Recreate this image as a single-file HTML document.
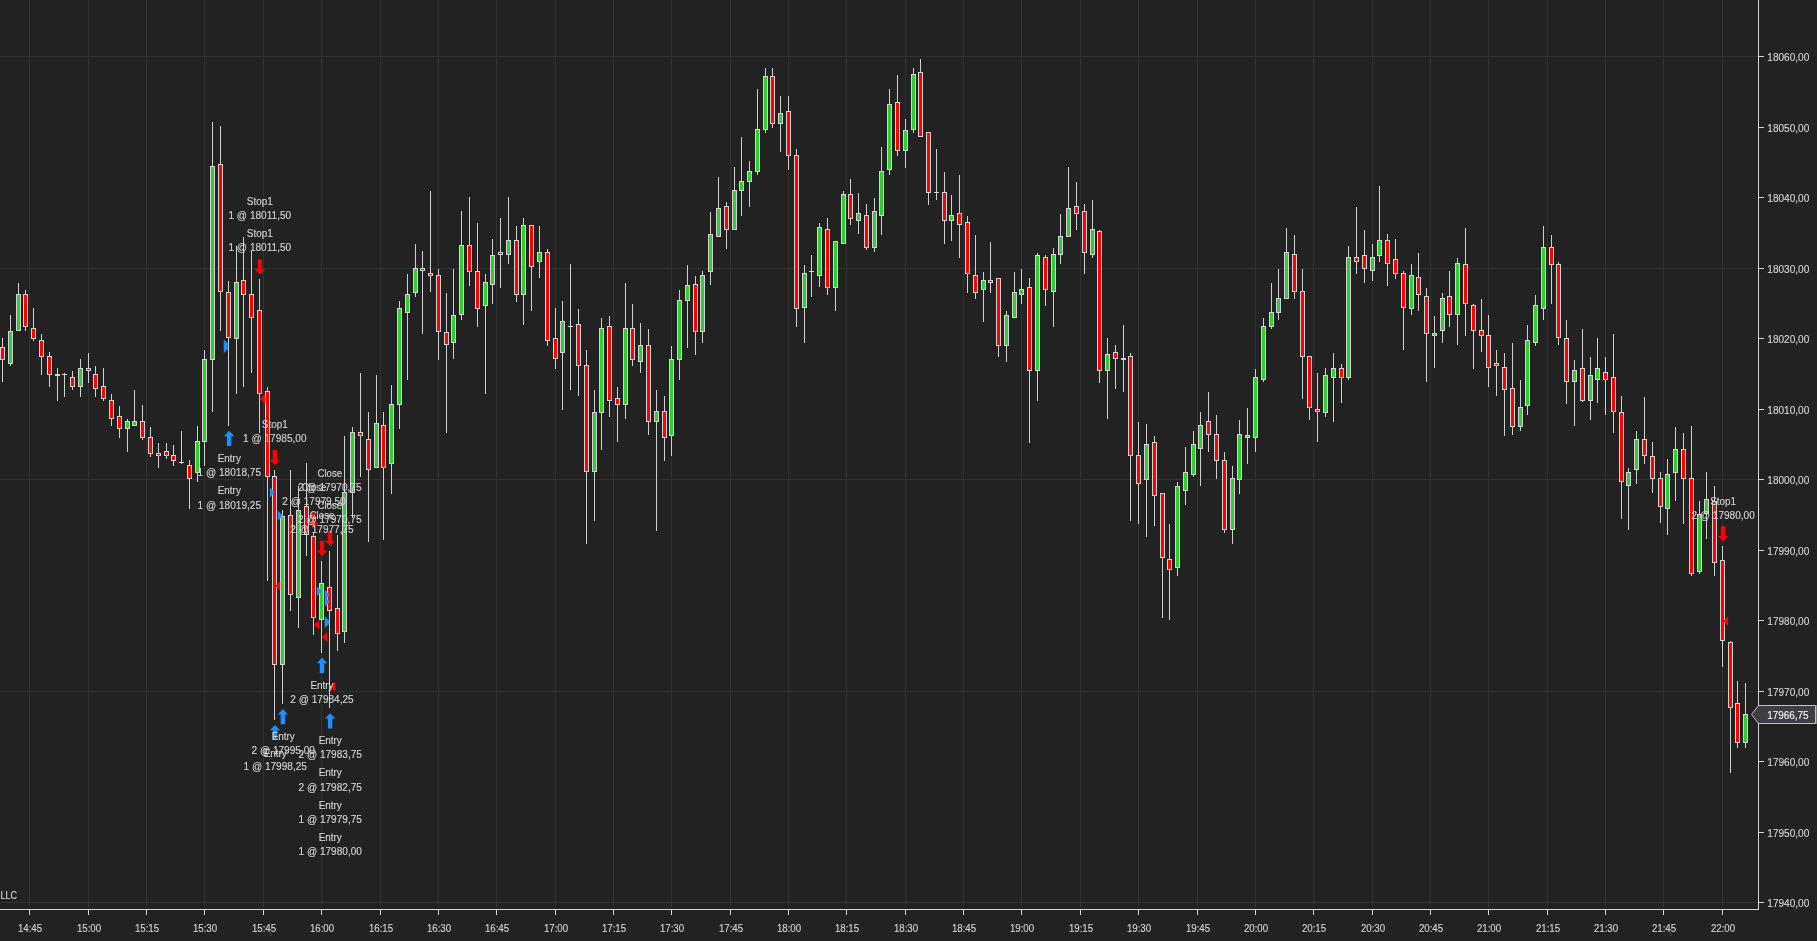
<!DOCTYPE html>
<html><head><meta charset="utf-8"><title>Chart</title>
<style>
html,body{margin:0;padding:0;background:#222222;width:1817px;height:941px;overflow:hidden;font-family:"Liberation Sans",sans-serif;}
</style></head><body>
<svg width="1817" height="941" viewBox="0 0 1817 941" style="display:block;position:absolute;left:0;top:0">
<rect width="1817" height="941" fill="#222222"/>
<g fill="#313133" shape-rendering="crispEdges">
<rect x="29" y="0" width="1" height="907"/>
<rect x="88" y="0" width="1" height="907"/>
<rect x="146" y="0" width="1" height="907"/>
<rect x="204" y="0" width="1" height="907"/>
<rect x="263" y="0" width="1" height="907"/>
<rect x="321" y="0" width="1" height="907"/>
<rect x="380" y="0" width="1" height="907"/>
<rect x="438" y="0" width="1" height="907"/>
<rect x="496" y="0" width="1" height="907"/>
<rect x="555" y="0" width="1" height="907"/>
<rect x="613" y="0" width="1" height="907"/>
<rect x="671" y="0" width="1" height="907"/>
<rect x="730" y="0" width="1" height="907"/>
<rect x="788" y="0" width="1" height="907"/>
<rect x="846" y="0" width="1" height="907"/>
<rect x="905" y="0" width="1" height="907"/>
<rect x="963" y="0" width="1" height="907"/>
<rect x="1021" y="0" width="1" height="907"/>
<rect x="1080" y="0" width="1" height="907"/>
<rect x="1138" y="0" width="1" height="907"/>
<rect x="1197" y="0" width="1" height="907"/>
<rect x="1255" y="0" width="1" height="907"/>
<rect x="1313" y="0" width="1" height="907"/>
<rect x="1372" y="0" width="1" height="907"/>
<rect x="1430" y="0" width="1" height="907"/>
<rect x="1488" y="0" width="1" height="907"/>
<rect x="1547" y="0" width="1" height="907"/>
<rect x="1605" y="0" width="1" height="907"/>
<rect x="1663" y="0" width="1" height="907"/>
<rect x="1722" y="0" width="1" height="907"/>
<rect x="0" y="56" width="1758" height="1"/>
<rect x="0" y="268" width="1758" height="1"/>
<rect x="0" y="479" width="1758" height="1"/>
<rect x="0" y="691" width="1758" height="1"/>
<rect x="0" y="902" width="1758" height="1"/>
</g>
<g shape-rendering="crispEdges">
<rect x="2" y="338" width="1" height="44" fill="#d0d0d0"/>
<rect x="0" y="347" width="5" height="13" fill="#d3d3d3"/>
<rect x="1" y="348" width="3" height="11" fill="#ff0000"/>
<rect x="10" y="315" width="1" height="51" fill="#d0d0d0"/>
<rect x="8" y="331" width="5" height="33" fill="#d3d3d3"/>
<rect x="9" y="332" width="3" height="31" fill="#32cd32"/>
<rect x="18" y="283" width="1" height="48" fill="#d0d0d0"/>
<rect x="16" y="294" width="5" height="37" fill="#d3d3d3"/>
<rect x="17" y="295" width="3" height="35" fill="#32cd32"/>
<rect x="25" y="290" width="1" height="41" fill="#d0d0d0"/>
<rect x="23" y="294" width="5" height="33" fill="#d3d3d3"/>
<rect x="24" y="295" width="3" height="31" fill="#ff0000"/>
<rect x="33" y="308" width="1" height="33" fill="#d0d0d0"/>
<rect x="31" y="328" width="5" height="11" fill="#d3d3d3"/>
<rect x="32" y="329" width="3" height="9" fill="#ff0000"/>
<rect x="41" y="334" width="1" height="41" fill="#d0d0d0"/>
<rect x="39" y="340" width="5" height="17" fill="#d3d3d3"/>
<rect x="40" y="341" width="3" height="15" fill="#ff0000"/>
<rect x="49" y="352" width="1" height="35" fill="#d0d0d0"/>
<rect x="47" y="356" width="5" height="19" fill="#d3d3d3"/>
<rect x="48" y="357" width="3" height="17" fill="#ff0000"/>
<rect x="57" y="368" width="1" height="33" fill="#d0d0d0"/>
<rect x="55" y="374" width="5" height="2" fill="#d3d3d3"/>
<rect x="64" y="373" width="1" height="24" fill="#d0d0d0"/>
<rect x="62" y="374" width="5" height="1" fill="#d3d3d3"/>
<rect x="72" y="371" width="1" height="19" fill="#d0d0d0"/>
<rect x="70" y="377" width="5" height="10" fill="#d3d3d3"/>
<rect x="71" y="378" width="3" height="8" fill="#ff0000"/>
<rect x="80" y="359" width="1" height="38" fill="#d0d0d0"/>
<rect x="78" y="368" width="5" height="19" fill="#d3d3d3"/>
<rect x="79" y="369" width="3" height="17" fill="#32cd32"/>
<rect x="88" y="353" width="1" height="30" fill="#d0d0d0"/>
<rect x="86" y="368" width="5" height="3" fill="#d3d3d3"/>
<rect x="87" y="369" width="3" height="1" fill="#ff0000"/>
<rect x="95" y="366" width="1" height="31" fill="#d0d0d0"/>
<rect x="93" y="374" width="5" height="15" fill="#d3d3d3"/>
<rect x="94" y="375" width="3" height="13" fill="#ff0000"/>
<rect x="103" y="368" width="1" height="33" fill="#d0d0d0"/>
<rect x="101" y="386" width="5" height="13" fill="#d3d3d3"/>
<rect x="102" y="387" width="3" height="11" fill="#ff0000"/>
<rect x="111" y="394" width="1" height="32" fill="#d0d0d0"/>
<rect x="109" y="400" width="5" height="19" fill="#d3d3d3"/>
<rect x="110" y="401" width="3" height="17" fill="#ff0000"/>
<rect x="119" y="406" width="1" height="32" fill="#d0d0d0"/>
<rect x="117" y="416" width="5" height="13" fill="#d3d3d3"/>
<rect x="118" y="417" width="3" height="11" fill="#ff0000"/>
<rect x="127" y="419" width="1" height="33" fill="#d0d0d0"/>
<rect x="125" y="421" width="5" height="8" fill="#d3d3d3"/>
<rect x="126" y="422" width="3" height="6" fill="#32cd32"/>
<rect x="134" y="390" width="1" height="36" fill="#d0d0d0"/>
<rect x="132" y="421" width="5" height="5" fill="#d3d3d3"/>
<rect x="133" y="422" width="3" height="3" fill="#32cd32"/>
<rect x="142" y="405" width="1" height="35" fill="#d0d0d0"/>
<rect x="140" y="421" width="5" height="17" fill="#d3d3d3"/>
<rect x="141" y="422" width="3" height="15" fill="#ff0000"/>
<rect x="150" y="427" width="1" height="30" fill="#d0d0d0"/>
<rect x="148" y="437" width="5" height="17" fill="#d3d3d3"/>
<rect x="149" y="438" width="3" height="15" fill="#ff0000"/>
<rect x="158" y="443" width="1" height="25" fill="#d0d0d0"/>
<rect x="156" y="453" width="5" height="3" fill="#d3d3d3"/>
<rect x="157" y="454" width="3" height="1" fill="#ff0000"/>
<rect x="166" y="443" width="1" height="16" fill="#d0d0d0"/>
<rect x="164" y="451" width="5" height="5" fill="#d3d3d3"/>
<rect x="165" y="452" width="3" height="3" fill="#ff0000"/>
<rect x="173" y="445" width="1" height="21" fill="#d0d0d0"/>
<rect x="171" y="455" width="5" height="6" fill="#d3d3d3"/>
<rect x="172" y="456" width="3" height="4" fill="#ff0000"/>
<rect x="181" y="431" width="1" height="33" fill="#d0d0d0"/>
<rect x="179" y="462" width="5" height="1" fill="#d3d3d3"/>
<rect x="189" y="460" width="1" height="49" fill="#d0d0d0"/>
<rect x="187" y="465" width="5" height="14" fill="#d3d3d3"/>
<rect x="188" y="466" width="3" height="12" fill="#ff0000"/>
<rect x="197" y="426" width="1" height="56" fill="#d0d0d0"/>
<rect x="195" y="441" width="5" height="32" fill="#d3d3d3"/>
<rect x="196" y="442" width="3" height="30" fill="#32cd32"/>
<rect x="204" y="350" width="1" height="116" fill="#d0d0d0"/>
<rect x="202" y="359" width="5" height="83" fill="#d3d3d3"/>
<rect x="203" y="360" width="3" height="81" fill="#32cd32"/>
<rect x="212" y="122" width="1" height="290" fill="#d0d0d0"/>
<rect x="210" y="166" width="5" height="194" fill="#d3d3d3"/>
<rect x="211" y="167" width="3" height="192" fill="#32cd32"/>
<rect x="220" y="126" width="1" height="205" fill="#d0d0d0"/>
<rect x="218" y="164" width="5" height="128" fill="#d3d3d3"/>
<rect x="219" y="165" width="3" height="126" fill="#ff0000"/>
<rect x="228" y="281" width="1" height="145" fill="#d0d0d0"/>
<rect x="226" y="292" width="5" height="46" fill="#d3d3d3"/>
<rect x="227" y="293" width="3" height="44" fill="#ff0000"/>
<rect x="236" y="246" width="1" height="148" fill="#d0d0d0"/>
<rect x="234" y="282" width="5" height="57" fill="#d3d3d3"/>
<rect x="235" y="283" width="3" height="55" fill="#32cd32"/>
<rect x="243" y="237" width="1" height="150" fill="#d0d0d0"/>
<rect x="241" y="280" width="5" height="15" fill="#d3d3d3"/>
<rect x="242" y="281" width="3" height="13" fill="#ff0000"/>
<rect x="251" y="251" width="1" height="122" fill="#d0d0d0"/>
<rect x="249" y="294" width="5" height="24" fill="#d3d3d3"/>
<rect x="250" y="295" width="3" height="22" fill="#ff0000"/>
<rect x="259" y="279" width="1" height="154" fill="#d0d0d0"/>
<rect x="257" y="310" width="5" height="84" fill="#d3d3d3"/>
<rect x="258" y="311" width="3" height="82" fill="#ff0000"/>
<rect x="267" y="387" width="1" height="194" fill="#d0d0d0"/>
<rect x="265" y="391" width="5" height="86" fill="#d3d3d3"/>
<rect x="266" y="392" width="3" height="84" fill="#ff0000"/>
<rect x="274" y="470" width="1" height="250" fill="#d0d0d0"/>
<rect x="272" y="476" width="5" height="189" fill="#d3d3d3"/>
<rect x="273" y="477" width="3" height="187" fill="#ff0000"/>
<rect x="282" y="510" width="1" height="194" fill="#d0d0d0"/>
<rect x="280" y="516" width="5" height="149" fill="#d3d3d3"/>
<rect x="281" y="517" width="3" height="147" fill="#32cd32"/>
<rect x="290" y="470" width="1" height="141" fill="#d0d0d0"/>
<rect x="288" y="515" width="5" height="80" fill="#d3d3d3"/>
<rect x="289" y="516" width="3" height="78" fill="#ff0000"/>
<rect x="298" y="486" width="1" height="142" fill="#d0d0d0"/>
<rect x="296" y="510" width="5" height="88" fill="#d3d3d3"/>
<rect x="297" y="511" width="3" height="86" fill="#32cd32"/>
<rect x="306" y="463" width="1" height="93" fill="#d0d0d0"/>
<rect x="304" y="506" width="5" height="29" fill="#d3d3d3"/>
<rect x="305" y="507" width="3" height="27" fill="#ff0000"/>
<rect x="313" y="533" width="1" height="102" fill="#d0d0d0"/>
<rect x="311" y="536" width="5" height="82" fill="#d3d3d3"/>
<rect x="312" y="537" width="3" height="80" fill="#ff0000"/>
<rect x="321" y="561" width="1" height="92" fill="#d0d0d0"/>
<rect x="319" y="583" width="5" height="37" fill="#d3d3d3"/>
<rect x="320" y="584" width="3" height="35" fill="#32cd32"/>
<rect x="329" y="551" width="1" height="157" fill="#d0d0d0"/>
<rect x="327" y="587" width="5" height="24" fill="#d3d3d3"/>
<rect x="328" y="588" width="3" height="22" fill="#ff0000"/>
<rect x="337" y="535" width="1" height="116" fill="#d0d0d0"/>
<rect x="335" y="608" width="5" height="26" fill="#d3d3d3"/>
<rect x="336" y="609" width="3" height="24" fill="#ff0000"/>
<rect x="344" y="436" width="1" height="207" fill="#d0d0d0"/>
<rect x="342" y="492" width="5" height="140" fill="#d3d3d3"/>
<rect x="343" y="493" width="3" height="138" fill="#32cd32"/>
<rect x="352" y="427" width="1" height="91" fill="#d0d0d0"/>
<rect x="350" y="432" width="5" height="61" fill="#d3d3d3"/>
<rect x="351" y="433" width="3" height="59" fill="#32cd32"/>
<rect x="360" y="373" width="1" height="104" fill="#d0d0d0"/>
<rect x="358" y="432" width="5" height="4" fill="#d3d3d3"/>
<rect x="359" y="433" width="3" height="2" fill="#ff0000"/>
<rect x="368" y="412" width="1" height="130" fill="#d0d0d0"/>
<rect x="366" y="439" width="5" height="31" fill="#d3d3d3"/>
<rect x="367" y="440" width="3" height="29" fill="#ff0000"/>
<rect x="376" y="375" width="1" height="93" fill="#d0d0d0"/>
<rect x="374" y="423" width="5" height="45" fill="#d3d3d3"/>
<rect x="375" y="424" width="3" height="43" fill="#32cd32"/>
<rect x="383" y="412" width="1" height="128" fill="#d0d0d0"/>
<rect x="381" y="425" width="5" height="43" fill="#d3d3d3"/>
<rect x="382" y="426" width="3" height="41" fill="#ff0000"/>
<rect x="391" y="385" width="1" height="109" fill="#d0d0d0"/>
<rect x="389" y="404" width="5" height="60" fill="#d3d3d3"/>
<rect x="390" y="405" width="3" height="58" fill="#32cd32"/>
<rect x="399" y="301" width="1" height="128" fill="#d0d0d0"/>
<rect x="397" y="308" width="5" height="97" fill="#d3d3d3"/>
<rect x="398" y="309" width="3" height="95" fill="#32cd32"/>
<rect x="407" y="274" width="1" height="106" fill="#d0d0d0"/>
<rect x="405" y="294" width="5" height="19" fill="#d3d3d3"/>
<rect x="406" y="295" width="3" height="17" fill="#32cd32"/>
<rect x="415" y="244" width="1" height="53" fill="#d0d0d0"/>
<rect x="413" y="268" width="5" height="25" fill="#d3d3d3"/>
<rect x="414" y="269" width="3" height="23" fill="#32cd32"/>
<rect x="422" y="251" width="1" height="83" fill="#d0d0d0"/>
<rect x="420" y="268" width="5" height="3" fill="#d3d3d3"/>
<rect x="421" y="269" width="3" height="1" fill="#ff0000"/>
<rect x="430" y="191" width="1" height="101" fill="#d0d0d0"/>
<rect x="428" y="273" width="5" height="3" fill="#d3d3d3"/>
<rect x="429" y="274" width="3" height="1" fill="#ff0000"/>
<rect x="438" y="269" width="1" height="91" fill="#d0d0d0"/>
<rect x="436" y="275" width="5" height="57" fill="#d3d3d3"/>
<rect x="437" y="276" width="3" height="55" fill="#ff0000"/>
<rect x="446" y="293" width="1" height="140" fill="#d0d0d0"/>
<rect x="444" y="332" width="5" height="13" fill="#d3d3d3"/>
<rect x="445" y="333" width="3" height="11" fill="#ff0000"/>
<rect x="453" y="269" width="1" height="90" fill="#d0d0d0"/>
<rect x="451" y="315" width="5" height="28" fill="#d3d3d3"/>
<rect x="452" y="316" width="3" height="26" fill="#32cd32"/>
<rect x="461" y="211" width="1" height="109" fill="#d0d0d0"/>
<rect x="459" y="245" width="5" height="70" fill="#d3d3d3"/>
<rect x="460" y="246" width="3" height="68" fill="#32cd32"/>
<rect x="469" y="197" width="1" height="89" fill="#d0d0d0"/>
<rect x="467" y="245" width="5" height="27" fill="#d3d3d3"/>
<rect x="468" y="246" width="3" height="25" fill="#ff0000"/>
<rect x="477" y="223" width="1" height="104" fill="#d0d0d0"/>
<rect x="475" y="271" width="5" height="38" fill="#d3d3d3"/>
<rect x="476" y="272" width="3" height="36" fill="#ff0000"/>
<rect x="485" y="274" width="1" height="120" fill="#d0d0d0"/>
<rect x="483" y="282" width="5" height="24" fill="#d3d3d3"/>
<rect x="484" y="283" width="3" height="22" fill="#32cd32"/>
<rect x="492" y="239" width="1" height="65" fill="#d0d0d0"/>
<rect x="490" y="255" width="5" height="30" fill="#d3d3d3"/>
<rect x="491" y="256" width="3" height="28" fill="#32cd32"/>
<rect x="500" y="218" width="1" height="70" fill="#d0d0d0"/>
<rect x="498" y="252" width="5" height="3" fill="#d3d3d3"/>
<rect x="499" y="253" width="3" height="1" fill="#ff0000"/>
<rect x="508" y="197" width="1" height="67" fill="#d0d0d0"/>
<rect x="506" y="240" width="5" height="15" fill="#d3d3d3"/>
<rect x="507" y="241" width="3" height="13" fill="#32cd32"/>
<rect x="516" y="226" width="1" height="76" fill="#d0d0d0"/>
<rect x="514" y="240" width="5" height="55" fill="#d3d3d3"/>
<rect x="515" y="241" width="3" height="53" fill="#ff0000"/>
<rect x="523" y="218" width="1" height="107" fill="#d0d0d0"/>
<rect x="521" y="225" width="5" height="70" fill="#d3d3d3"/>
<rect x="522" y="226" width="3" height="68" fill="#32cd32"/>
<rect x="531" y="225" width="1" height="86" fill="#d0d0d0"/>
<rect x="529" y="225" width="5" height="42" fill="#d3d3d3"/>
<rect x="530" y="226" width="3" height="40" fill="#ff0000"/>
<rect x="539" y="226" width="1" height="52" fill="#d0d0d0"/>
<rect x="537" y="252" width="5" height="10" fill="#d3d3d3"/>
<rect x="538" y="253" width="3" height="8" fill="#32cd32"/>
<rect x="547" y="249" width="1" height="97" fill="#d0d0d0"/>
<rect x="545" y="252" width="5" height="89" fill="#d3d3d3"/>
<rect x="546" y="253" width="3" height="87" fill="#ff0000"/>
<rect x="555" y="308" width="1" height="61" fill="#d0d0d0"/>
<rect x="553" y="338" width="5" height="21" fill="#d3d3d3"/>
<rect x="554" y="339" width="3" height="19" fill="#ff0000"/>
<rect x="562" y="301" width="1" height="109" fill="#d0d0d0"/>
<rect x="560" y="321" width="5" height="32" fill="#d3d3d3"/>
<rect x="561" y="322" width="3" height="30" fill="#32cd32"/>
<rect x="570" y="264" width="1" height="126" fill="#d0d0d0"/>
<rect x="568" y="326" width="5" height="1" fill="#d3d3d3"/>
<rect x="578" y="309" width="1" height="87" fill="#d0d0d0"/>
<rect x="576" y="324" width="5" height="42" fill="#d3d3d3"/>
<rect x="577" y="325" width="3" height="40" fill="#ff0000"/>
<rect x="586" y="350" width="1" height="194" fill="#d0d0d0"/>
<rect x="584" y="365" width="5" height="107" fill="#d3d3d3"/>
<rect x="585" y="366" width="3" height="105" fill="#ff0000"/>
<rect x="594" y="390" width="1" height="131" fill="#d0d0d0"/>
<rect x="592" y="412" width="5" height="60" fill="#d3d3d3"/>
<rect x="593" y="413" width="3" height="58" fill="#32cd32"/>
<rect x="601" y="318" width="1" height="132" fill="#d0d0d0"/>
<rect x="599" y="328" width="5" height="85" fill="#d3d3d3"/>
<rect x="600" y="329" width="3" height="83" fill="#32cd32"/>
<rect x="609" y="316" width="1" height="101" fill="#d0d0d0"/>
<rect x="607" y="326" width="5" height="75" fill="#d3d3d3"/>
<rect x="608" y="327" width="3" height="73" fill="#ff0000"/>
<rect x="617" y="387" width="1" height="55" fill="#d0d0d0"/>
<rect x="615" y="398" width="5" height="7" fill="#d3d3d3"/>
<rect x="616" y="399" width="3" height="5" fill="#ff0000"/>
<rect x="625" y="283" width="1" height="136" fill="#d0d0d0"/>
<rect x="623" y="328" width="5" height="77" fill="#d3d3d3"/>
<rect x="624" y="329" width="3" height="75" fill="#32cd32"/>
<rect x="632" y="304" width="1" height="62" fill="#d0d0d0"/>
<rect x="630" y="328" width="5" height="32" fill="#d3d3d3"/>
<rect x="631" y="329" width="3" height="30" fill="#ff0000"/>
<rect x="640" y="323" width="1" height="50" fill="#d0d0d0"/>
<rect x="638" y="345" width="5" height="17" fill="#d3d3d3"/>
<rect x="639" y="346" width="3" height="15" fill="#32cd32"/>
<rect x="648" y="329" width="1" height="106" fill="#d0d0d0"/>
<rect x="646" y="345" width="5" height="77" fill="#d3d3d3"/>
<rect x="647" y="346" width="3" height="75" fill="#ff0000"/>
<rect x="656" y="390" width="1" height="141" fill="#d0d0d0"/>
<rect x="654" y="411" width="5" height="11" fill="#d3d3d3"/>
<rect x="655" y="412" width="3" height="9" fill="#32cd32"/>
<rect x="664" y="396" width="1" height="65" fill="#d0d0d0"/>
<rect x="662" y="411" width="5" height="27" fill="#d3d3d3"/>
<rect x="663" y="412" width="3" height="25" fill="#ff0000"/>
<rect x="671" y="346" width="1" height="110" fill="#d0d0d0"/>
<rect x="669" y="359" width="5" height="77" fill="#d3d3d3"/>
<rect x="670" y="360" width="3" height="75" fill="#32cd32"/>
<rect x="679" y="290" width="1" height="90" fill="#d0d0d0"/>
<rect x="677" y="300" width="5" height="60" fill="#d3d3d3"/>
<rect x="678" y="301" width="3" height="58" fill="#32cd32"/>
<rect x="687" y="265" width="1" height="83" fill="#d0d0d0"/>
<rect x="685" y="285" width="5" height="16" fill="#d3d3d3"/>
<rect x="686" y="286" width="3" height="14" fill="#32cd32"/>
<rect x="695" y="276" width="1" height="79" fill="#d0d0d0"/>
<rect x="693" y="284" width="5" height="48" fill="#d3d3d3"/>
<rect x="694" y="285" width="3" height="46" fill="#ff0000"/>
<rect x="702" y="271" width="1" height="72" fill="#d0d0d0"/>
<rect x="700" y="275" width="5" height="57" fill="#d3d3d3"/>
<rect x="701" y="276" width="3" height="55" fill="#32cd32"/>
<rect x="710" y="212" width="1" height="73" fill="#d0d0d0"/>
<rect x="708" y="234" width="5" height="38" fill="#d3d3d3"/>
<rect x="709" y="235" width="3" height="36" fill="#32cd32"/>
<rect x="718" y="177" width="1" height="60" fill="#d0d0d0"/>
<rect x="716" y="208" width="5" height="29" fill="#d3d3d3"/>
<rect x="717" y="209" width="3" height="27" fill="#32cd32"/>
<rect x="726" y="202" width="1" height="47" fill="#d0d0d0"/>
<rect x="724" y="206" width="5" height="24" fill="#d3d3d3"/>
<rect x="725" y="207" width="3" height="22" fill="#ff0000"/>
<rect x="734" y="167" width="1" height="63" fill="#d0d0d0"/>
<rect x="732" y="190" width="5" height="40" fill="#d3d3d3"/>
<rect x="733" y="191" width="3" height="38" fill="#32cd32"/>
<rect x="741" y="137" width="1" height="79" fill="#d0d0d0"/>
<rect x="739" y="181" width="5" height="10" fill="#d3d3d3"/>
<rect x="740" y="182" width="3" height="8" fill="#32cd32"/>
<rect x="749" y="161" width="1" height="46" fill="#d0d0d0"/>
<rect x="747" y="171" width="5" height="11" fill="#d3d3d3"/>
<rect x="748" y="172" width="3" height="9" fill="#32cd32"/>
<rect x="757" y="89" width="1" height="86" fill="#d0d0d0"/>
<rect x="755" y="129" width="5" height="43" fill="#d3d3d3"/>
<rect x="756" y="130" width="3" height="41" fill="#32cd32"/>
<rect x="765" y="68" width="1" height="65" fill="#d0d0d0"/>
<rect x="763" y="76" width="5" height="54" fill="#d3d3d3"/>
<rect x="764" y="77" width="3" height="52" fill="#32cd32"/>
<rect x="772" y="68" width="1" height="60" fill="#d0d0d0"/>
<rect x="770" y="76" width="5" height="48" fill="#d3d3d3"/>
<rect x="771" y="77" width="3" height="46" fill="#ff0000"/>
<rect x="780" y="96" width="1" height="56" fill="#d0d0d0"/>
<rect x="778" y="113" width="5" height="11" fill="#d3d3d3"/>
<rect x="779" y="114" width="3" height="9" fill="#32cd32"/>
<rect x="788" y="96" width="1" height="74" fill="#d0d0d0"/>
<rect x="786" y="111" width="5" height="45" fill="#d3d3d3"/>
<rect x="787" y="112" width="3" height="43" fill="#ff0000"/>
<rect x="796" y="149" width="1" height="178" fill="#d0d0d0"/>
<rect x="794" y="155" width="5" height="154" fill="#d3d3d3"/>
<rect x="795" y="156" width="3" height="152" fill="#ff0000"/>
<rect x="804" y="265" width="1" height="78" fill="#d0d0d0"/>
<rect x="802" y="273" width="5" height="35" fill="#d3d3d3"/>
<rect x="803" y="274" width="3" height="33" fill="#32cd32"/>
<rect x="811" y="255" width="1" height="42" fill="#d0d0d0"/>
<rect x="809" y="271" width="5" height="1" fill="#d3d3d3"/>
<rect x="819" y="223" width="1" height="64" fill="#d0d0d0"/>
<rect x="817" y="227" width="5" height="49" fill="#d3d3d3"/>
<rect x="818" y="228" width="3" height="47" fill="#32cd32"/>
<rect x="827" y="218" width="1" height="77" fill="#d0d0d0"/>
<rect x="825" y="229" width="5" height="59" fill="#d3d3d3"/>
<rect x="826" y="230" width="3" height="57" fill="#ff0000"/>
<rect x="835" y="241" width="1" height="70" fill="#d0d0d0"/>
<rect x="833" y="241" width="5" height="47" fill="#d3d3d3"/>
<rect x="834" y="242" width="3" height="45" fill="#32cd32"/>
<rect x="843" y="191" width="1" height="53" fill="#d0d0d0"/>
<rect x="841" y="194" width="5" height="50" fill="#d3d3d3"/>
<rect x="842" y="195" width="3" height="48" fill="#32cd32"/>
<rect x="850" y="179" width="1" height="46" fill="#d0d0d0"/>
<rect x="848" y="194" width="5" height="25" fill="#d3d3d3"/>
<rect x="849" y="195" width="3" height="23" fill="#ff0000"/>
<rect x="858" y="193" width="1" height="41" fill="#d0d0d0"/>
<rect x="856" y="213" width="5" height="8" fill="#d3d3d3"/>
<rect x="857" y="214" width="3" height="6" fill="#32cd32"/>
<rect x="866" y="204" width="1" height="46" fill="#d0d0d0"/>
<rect x="864" y="215" width="5" height="33" fill="#d3d3d3"/>
<rect x="865" y="216" width="3" height="31" fill="#ff0000"/>
<rect x="874" y="198" width="1" height="54" fill="#d0d0d0"/>
<rect x="872" y="211" width="5" height="37" fill="#d3d3d3"/>
<rect x="873" y="212" width="3" height="35" fill="#32cd32"/>
<rect x="881" y="147" width="1" height="88" fill="#d0d0d0"/>
<rect x="879" y="171" width="5" height="45" fill="#d3d3d3"/>
<rect x="880" y="172" width="3" height="43" fill="#32cd32"/>
<rect x="889" y="89" width="1" height="86" fill="#d0d0d0"/>
<rect x="887" y="104" width="5" height="66" fill="#d3d3d3"/>
<rect x="888" y="105" width="3" height="64" fill="#32cd32"/>
<rect x="897" y="75" width="1" height="81" fill="#d0d0d0"/>
<rect x="895" y="102" width="5" height="49" fill="#d3d3d3"/>
<rect x="896" y="103" width="3" height="47" fill="#ff0000"/>
<rect x="905" y="119" width="1" height="49" fill="#d0d0d0"/>
<rect x="903" y="130" width="5" height="21" fill="#d3d3d3"/>
<rect x="904" y="131" width="3" height="19" fill="#32cd32"/>
<rect x="913" y="68" width="1" height="65" fill="#d0d0d0"/>
<rect x="911" y="74" width="5" height="56" fill="#d3d3d3"/>
<rect x="912" y="75" width="3" height="54" fill="#32cd32"/>
<rect x="920" y="59" width="1" height="78" fill="#d0d0d0"/>
<rect x="918" y="72" width="5" height="65" fill="#d3d3d3"/>
<rect x="919" y="73" width="3" height="63" fill="#ff0000"/>
<rect x="928" y="132" width="1" height="73" fill="#d0d0d0"/>
<rect x="926" y="132" width="5" height="61" fill="#d3d3d3"/>
<rect x="927" y="133" width="3" height="59" fill="#ff0000"/>
<rect x="936" y="149" width="1" height="51" fill="#d0d0d0"/>
<rect x="934" y="192" width="5" height="1" fill="#d3d3d3"/>
<rect x="944" y="172" width="1" height="72" fill="#d0d0d0"/>
<rect x="942" y="192" width="5" height="29" fill="#d3d3d3"/>
<rect x="943" y="193" width="3" height="27" fill="#ff0000"/>
<rect x="951" y="195" width="1" height="46" fill="#d0d0d0"/>
<rect x="949" y="215" width="5" height="6" fill="#d3d3d3"/>
<rect x="950" y="216" width="3" height="4" fill="#32cd32"/>
<rect x="959" y="175" width="1" height="83" fill="#d0d0d0"/>
<rect x="957" y="213" width="5" height="12" fill="#d3d3d3"/>
<rect x="958" y="214" width="3" height="10" fill="#ff0000"/>
<rect x="967" y="216" width="1" height="77" fill="#d0d0d0"/>
<rect x="965" y="222" width="5" height="52" fill="#d3d3d3"/>
<rect x="966" y="223" width="3" height="50" fill="#ff0000"/>
<rect x="975" y="235" width="1" height="64" fill="#d0d0d0"/>
<rect x="973" y="275" width="5" height="18" fill="#d3d3d3"/>
<rect x="974" y="276" width="3" height="16" fill="#ff0000"/>
<rect x="983" y="272" width="1" height="50" fill="#d0d0d0"/>
<rect x="981" y="280" width="5" height="10" fill="#d3d3d3"/>
<rect x="982" y="281" width="3" height="8" fill="#32cd32"/>
<rect x="990" y="242" width="1" height="51" fill="#d0d0d0"/>
<rect x="988" y="280" width="5" height="3" fill="#d3d3d3"/>
<rect x="989" y="281" width="3" height="1" fill="#ff0000"/>
<rect x="998" y="278" width="1" height="79" fill="#d0d0d0"/>
<rect x="996" y="278" width="5" height="68" fill="#d3d3d3"/>
<rect x="997" y="279" width="3" height="66" fill="#ff0000"/>
<rect x="1006" y="311" width="1" height="51" fill="#d0d0d0"/>
<rect x="1004" y="315" width="5" height="31" fill="#d3d3d3"/>
<rect x="1005" y="316" width="3" height="29" fill="#32cd32"/>
<rect x="1014" y="272" width="1" height="46" fill="#d0d0d0"/>
<rect x="1012" y="292" width="5" height="26" fill="#d3d3d3"/>
<rect x="1013" y="293" width="3" height="24" fill="#32cd32"/>
<rect x="1021" y="269" width="1" height="35" fill="#d0d0d0"/>
<rect x="1019" y="289" width="5" height="6" fill="#d3d3d3"/>
<rect x="1020" y="290" width="3" height="4" fill="#32cd32"/>
<rect x="1029" y="278" width="1" height="165" fill="#d0d0d0"/>
<rect x="1027" y="287" width="5" height="84" fill="#d3d3d3"/>
<rect x="1028" y="288" width="3" height="82" fill="#ff0000"/>
<rect x="1037" y="253" width="1" height="148" fill="#d0d0d0"/>
<rect x="1035" y="255" width="5" height="116" fill="#d3d3d3"/>
<rect x="1036" y="256" width="3" height="114" fill="#32cd32"/>
<rect x="1045" y="255" width="1" height="51" fill="#d0d0d0"/>
<rect x="1043" y="257" width="5" height="33" fill="#d3d3d3"/>
<rect x="1044" y="258" width="3" height="31" fill="#ff0000"/>
<rect x="1053" y="248" width="1" height="79" fill="#d0d0d0"/>
<rect x="1051" y="254" width="5" height="38" fill="#d3d3d3"/>
<rect x="1052" y="255" width="3" height="36" fill="#32cd32"/>
<rect x="1060" y="214" width="1" height="50" fill="#d0d0d0"/>
<rect x="1058" y="236" width="5" height="19" fill="#d3d3d3"/>
<rect x="1059" y="237" width="3" height="17" fill="#32cd32"/>
<rect x="1068" y="167" width="1" height="70" fill="#d0d0d0"/>
<rect x="1066" y="208" width="5" height="29" fill="#d3d3d3"/>
<rect x="1067" y="209" width="3" height="27" fill="#32cd32"/>
<rect x="1076" y="182" width="1" height="48" fill="#d0d0d0"/>
<rect x="1074" y="206" width="5" height="8" fill="#d3d3d3"/>
<rect x="1075" y="207" width="3" height="6" fill="#ff0000"/>
<rect x="1084" y="204" width="1" height="70" fill="#d0d0d0"/>
<rect x="1082" y="211" width="5" height="42" fill="#d3d3d3"/>
<rect x="1083" y="212" width="3" height="40" fill="#ff0000"/>
<rect x="1092" y="200" width="1" height="58" fill="#d0d0d0"/>
<rect x="1090" y="229" width="5" height="26" fill="#d3d3d3"/>
<rect x="1091" y="230" width="3" height="24" fill="#32cd32"/>
<rect x="1099" y="230" width="1" height="153" fill="#d0d0d0"/>
<rect x="1097" y="231" width="5" height="140" fill="#d3d3d3"/>
<rect x="1098" y="232" width="3" height="138" fill="#ff0000"/>
<rect x="1107" y="338" width="1" height="81" fill="#d0d0d0"/>
<rect x="1105" y="354" width="5" height="17" fill="#d3d3d3"/>
<rect x="1106" y="355" width="3" height="15" fill="#32cd32"/>
<rect x="1115" y="345" width="1" height="44" fill="#d0d0d0"/>
<rect x="1113" y="352" width="5" height="7" fill="#d3d3d3"/>
<rect x="1114" y="353" width="3" height="5" fill="#ff0000"/>
<rect x="1123" y="325" width="1" height="67" fill="#d0d0d0"/>
<rect x="1121" y="358" width="5" height="2" fill="#d3d3d3"/>
<rect x="1130" y="353" width="1" height="168" fill="#d0d0d0"/>
<rect x="1128" y="356" width="5" height="100" fill="#d3d3d3"/>
<rect x="1129" y="357" width="3" height="98" fill="#ff0000"/>
<rect x="1138" y="422" width="1" height="102" fill="#d0d0d0"/>
<rect x="1136" y="455" width="5" height="29" fill="#d3d3d3"/>
<rect x="1137" y="456" width="3" height="27" fill="#ff0000"/>
<rect x="1146" y="424" width="1" height="113" fill="#d0d0d0"/>
<rect x="1144" y="444" width="5" height="36" fill="#d3d3d3"/>
<rect x="1145" y="445" width="3" height="34" fill="#32cd32"/>
<rect x="1154" y="436" width="1" height="90" fill="#d0d0d0"/>
<rect x="1152" y="442" width="5" height="54" fill="#d3d3d3"/>
<rect x="1153" y="443" width="3" height="52" fill="#ff0000"/>
<rect x="1162" y="493" width="1" height="125" fill="#d0d0d0"/>
<rect x="1160" y="493" width="5" height="65" fill="#d3d3d3"/>
<rect x="1161" y="494" width="3" height="63" fill="#ff0000"/>
<rect x="1169" y="524" width="1" height="96" fill="#d0d0d0"/>
<rect x="1167" y="559" width="5" height="11" fill="#d3d3d3"/>
<rect x="1168" y="560" width="3" height="9" fill="#ff0000"/>
<rect x="1177" y="482" width="1" height="94" fill="#d0d0d0"/>
<rect x="1175" y="486" width="5" height="82" fill="#d3d3d3"/>
<rect x="1176" y="487" width="3" height="80" fill="#32cd32"/>
<rect x="1185" y="447" width="1" height="58" fill="#d0d0d0"/>
<rect x="1183" y="472" width="5" height="19" fill="#d3d3d3"/>
<rect x="1184" y="473" width="3" height="17" fill="#32cd32"/>
<rect x="1193" y="431" width="1" height="46" fill="#d0d0d0"/>
<rect x="1191" y="444" width="5" height="31" fill="#d3d3d3"/>
<rect x="1192" y="445" width="3" height="29" fill="#32cd32"/>
<rect x="1200" y="412" width="1" height="74" fill="#d0d0d0"/>
<rect x="1198" y="425" width="5" height="24" fill="#d3d3d3"/>
<rect x="1199" y="426" width="3" height="22" fill="#32cd32"/>
<rect x="1208" y="392" width="1" height="60" fill="#d0d0d0"/>
<rect x="1206" y="421" width="5" height="14" fill="#d3d3d3"/>
<rect x="1207" y="422" width="3" height="12" fill="#ff0000"/>
<rect x="1216" y="415" width="1" height="64" fill="#d0d0d0"/>
<rect x="1214" y="434" width="5" height="27" fill="#d3d3d3"/>
<rect x="1215" y="435" width="3" height="25" fill="#ff0000"/>
<rect x="1224" y="452" width="1" height="81" fill="#d0d0d0"/>
<rect x="1222" y="460" width="5" height="70" fill="#d3d3d3"/>
<rect x="1223" y="461" width="3" height="68" fill="#ff0000"/>
<rect x="1232" y="466" width="1" height="78" fill="#d0d0d0"/>
<rect x="1230" y="478" width="5" height="52" fill="#d3d3d3"/>
<rect x="1231" y="479" width="3" height="50" fill="#32cd32"/>
<rect x="1239" y="420" width="1" height="74" fill="#d0d0d0"/>
<rect x="1237" y="434" width="5" height="46" fill="#d3d3d3"/>
<rect x="1238" y="435" width="3" height="44" fill="#32cd32"/>
<rect x="1247" y="408" width="1" height="56" fill="#d0d0d0"/>
<rect x="1245" y="435" width="5" height="3" fill="#d3d3d3"/>
<rect x="1246" y="436" width="3" height="1" fill="#32cd32"/>
<rect x="1255" y="369" width="1" height="83" fill="#d0d0d0"/>
<rect x="1253" y="377" width="5" height="61" fill="#d3d3d3"/>
<rect x="1254" y="378" width="3" height="59" fill="#32cd32"/>
<rect x="1263" y="318" width="1" height="64" fill="#d0d0d0"/>
<rect x="1261" y="326" width="5" height="54" fill="#d3d3d3"/>
<rect x="1262" y="327" width="3" height="52" fill="#32cd32"/>
<rect x="1271" y="283" width="1" height="46" fill="#d0d0d0"/>
<rect x="1269" y="312" width="5" height="15" fill="#d3d3d3"/>
<rect x="1270" y="313" width="3" height="13" fill="#32cd32"/>
<rect x="1278" y="269" width="1" height="51" fill="#d0d0d0"/>
<rect x="1276" y="298" width="5" height="15" fill="#d3d3d3"/>
<rect x="1277" y="299" width="3" height="13" fill="#32cd32"/>
<rect x="1286" y="228" width="1" height="71" fill="#d0d0d0"/>
<rect x="1284" y="252" width="5" height="47" fill="#d3d3d3"/>
<rect x="1285" y="253" width="3" height="45" fill="#32cd32"/>
<rect x="1294" y="235" width="1" height="64" fill="#d0d0d0"/>
<rect x="1292" y="254" width="5" height="38" fill="#d3d3d3"/>
<rect x="1293" y="255" width="3" height="36" fill="#ff0000"/>
<rect x="1302" y="269" width="1" height="130" fill="#d0d0d0"/>
<rect x="1300" y="291" width="5" height="66" fill="#d3d3d3"/>
<rect x="1301" y="292" width="3" height="64" fill="#ff0000"/>
<rect x="1309" y="356" width="1" height="64" fill="#d0d0d0"/>
<rect x="1307" y="356" width="5" height="52" fill="#d3d3d3"/>
<rect x="1308" y="357" width="3" height="50" fill="#ff0000"/>
<rect x="1317" y="373" width="1" height="69" fill="#d0d0d0"/>
<rect x="1315" y="409" width="5" height="3" fill="#d3d3d3"/>
<rect x="1316" y="410" width="3" height="1" fill="#ff0000"/>
<rect x="1325" y="368" width="1" height="49" fill="#d0d0d0"/>
<rect x="1323" y="375" width="5" height="38" fill="#d3d3d3"/>
<rect x="1324" y="376" width="3" height="36" fill="#32cd32"/>
<rect x="1333" y="353" width="1" height="69" fill="#d0d0d0"/>
<rect x="1331" y="368" width="5" height="10" fill="#d3d3d3"/>
<rect x="1332" y="369" width="3" height="8" fill="#32cd32"/>
<rect x="1341" y="364" width="1" height="39" fill="#d0d0d0"/>
<rect x="1339" y="368" width="5" height="10" fill="#d3d3d3"/>
<rect x="1340" y="369" width="3" height="8" fill="#ff0000"/>
<rect x="1348" y="246" width="1" height="134" fill="#d0d0d0"/>
<rect x="1346" y="257" width="5" height="121" fill="#d3d3d3"/>
<rect x="1347" y="258" width="3" height="119" fill="#32cd32"/>
<rect x="1356" y="207" width="1" height="67" fill="#d0d0d0"/>
<rect x="1354" y="257" width="5" height="5" fill="#d3d3d3"/>
<rect x="1355" y="258" width="3" height="3" fill="#ff0000"/>
<rect x="1364" y="230" width="1" height="53" fill="#d0d0d0"/>
<rect x="1362" y="255" width="5" height="14" fill="#d3d3d3"/>
<rect x="1363" y="256" width="3" height="12" fill="#ff0000"/>
<rect x="1372" y="244" width="1" height="37" fill="#d0d0d0"/>
<rect x="1370" y="257" width="5" height="14" fill="#d3d3d3"/>
<rect x="1371" y="258" width="3" height="12" fill="#32cd32"/>
<rect x="1379" y="186" width="1" height="76" fill="#d0d0d0"/>
<rect x="1377" y="240" width="5" height="16" fill="#d3d3d3"/>
<rect x="1378" y="241" width="3" height="14" fill="#32cd32"/>
<rect x="1387" y="234" width="1" height="52" fill="#d0d0d0"/>
<rect x="1385" y="240" width="5" height="24" fill="#d3d3d3"/>
<rect x="1386" y="241" width="3" height="22" fill="#ff0000"/>
<rect x="1395" y="239" width="1" height="40" fill="#d0d0d0"/>
<rect x="1393" y="259" width="5" height="15" fill="#d3d3d3"/>
<rect x="1394" y="260" width="3" height="13" fill="#ff0000"/>
<rect x="1403" y="271" width="1" height="79" fill="#d0d0d0"/>
<rect x="1401" y="273" width="5" height="35" fill="#d3d3d3"/>
<rect x="1402" y="274" width="3" height="33" fill="#ff0000"/>
<rect x="1411" y="264" width="1" height="51" fill="#d0d0d0"/>
<rect x="1409" y="275" width="5" height="34" fill="#d3d3d3"/>
<rect x="1410" y="276" width="3" height="32" fill="#32cd32"/>
<rect x="1418" y="253" width="1" height="58" fill="#d0d0d0"/>
<rect x="1416" y="277" width="5" height="18" fill="#d3d3d3"/>
<rect x="1417" y="278" width="3" height="16" fill="#ff0000"/>
<rect x="1426" y="288" width="1" height="94" fill="#d0d0d0"/>
<rect x="1424" y="296" width="5" height="38" fill="#d3d3d3"/>
<rect x="1425" y="297" width="3" height="36" fill="#ff0000"/>
<rect x="1434" y="316" width="1" height="52" fill="#d0d0d0"/>
<rect x="1432" y="333" width="5" height="3" fill="#d3d3d3"/>
<rect x="1433" y="334" width="3" height="1" fill="#32cd32"/>
<rect x="1442" y="293" width="1" height="50" fill="#d0d0d0"/>
<rect x="1440" y="298" width="5" height="33" fill="#d3d3d3"/>
<rect x="1441" y="299" width="3" height="31" fill="#32cd32"/>
<rect x="1449" y="271" width="1" height="56" fill="#d0d0d0"/>
<rect x="1447" y="296" width="5" height="19" fill="#d3d3d3"/>
<rect x="1448" y="297" width="3" height="17" fill="#ff0000"/>
<rect x="1457" y="258" width="1" height="87" fill="#d0d0d0"/>
<rect x="1455" y="263" width="5" height="52" fill="#d3d3d3"/>
<rect x="1456" y="264" width="3" height="50" fill="#32cd32"/>
<rect x="1465" y="228" width="1" height="108" fill="#d0d0d0"/>
<rect x="1463" y="264" width="5" height="40" fill="#d3d3d3"/>
<rect x="1464" y="265" width="3" height="38" fill="#ff0000"/>
<rect x="1473" y="304" width="1" height="65" fill="#d0d0d0"/>
<rect x="1471" y="305" width="5" height="26" fill="#d3d3d3"/>
<rect x="1472" y="306" width="3" height="24" fill="#ff0000"/>
<rect x="1481" y="299" width="1" height="53" fill="#d0d0d0"/>
<rect x="1479" y="330" width="5" height="6" fill="#d3d3d3"/>
<rect x="1480" y="331" width="3" height="4" fill="#ff0000"/>
<rect x="1488" y="315" width="1" height="72" fill="#d0d0d0"/>
<rect x="1486" y="335" width="5" height="33" fill="#d3d3d3"/>
<rect x="1487" y="336" width="3" height="31" fill="#ff0000"/>
<rect x="1496" y="350" width="1" height="46" fill="#d0d0d0"/>
<rect x="1494" y="363" width="5" height="3" fill="#d3d3d3"/>
<rect x="1495" y="364" width="3" height="1" fill="#ff0000"/>
<rect x="1504" y="353" width="1" height="83" fill="#d0d0d0"/>
<rect x="1502" y="367" width="5" height="23" fill="#d3d3d3"/>
<rect x="1503" y="368" width="3" height="21" fill="#ff0000"/>
<rect x="1512" y="343" width="1" height="92" fill="#d0d0d0"/>
<rect x="1510" y="388" width="5" height="39" fill="#d3d3d3"/>
<rect x="1511" y="389" width="3" height="37" fill="#ff0000"/>
<rect x="1520" y="380" width="1" height="51" fill="#d0d0d0"/>
<rect x="1518" y="407" width="5" height="20" fill="#d3d3d3"/>
<rect x="1519" y="408" width="3" height="18" fill="#32cd32"/>
<rect x="1527" y="325" width="1" height="90" fill="#d0d0d0"/>
<rect x="1525" y="340" width="5" height="66" fill="#d3d3d3"/>
<rect x="1526" y="341" width="3" height="64" fill="#32cd32"/>
<rect x="1535" y="295" width="1" height="51" fill="#d0d0d0"/>
<rect x="1533" y="305" width="5" height="38" fill="#d3d3d3"/>
<rect x="1534" y="306" width="3" height="36" fill="#32cd32"/>
<rect x="1543" y="226" width="1" height="94" fill="#d0d0d0"/>
<rect x="1541" y="247" width="5" height="62" fill="#d3d3d3"/>
<rect x="1542" y="248" width="3" height="60" fill="#32cd32"/>
<rect x="1551" y="235" width="1" height="69" fill="#d0d0d0"/>
<rect x="1549" y="247" width="5" height="18" fill="#d3d3d3"/>
<rect x="1550" y="248" width="3" height="16" fill="#ff0000"/>
<rect x="1558" y="262" width="1" height="83" fill="#d0d0d0"/>
<rect x="1556" y="264" width="5" height="74" fill="#d3d3d3"/>
<rect x="1557" y="265" width="3" height="72" fill="#ff0000"/>
<rect x="1566" y="320" width="1" height="84" fill="#d0d0d0"/>
<rect x="1564" y="338" width="5" height="44" fill="#d3d3d3"/>
<rect x="1565" y="339" width="3" height="42" fill="#ff0000"/>
<rect x="1574" y="360" width="1" height="66" fill="#d0d0d0"/>
<rect x="1572" y="370" width="5" height="12" fill="#d3d3d3"/>
<rect x="1573" y="371" width="3" height="10" fill="#32cd32"/>
<rect x="1582" y="329" width="1" height="73" fill="#d0d0d0"/>
<rect x="1580" y="368" width="5" height="33" fill="#d3d3d3"/>
<rect x="1581" y="369" width="3" height="31" fill="#ff0000"/>
<rect x="1590" y="357" width="1" height="63" fill="#d0d0d0"/>
<rect x="1588" y="375" width="5" height="26" fill="#d3d3d3"/>
<rect x="1589" y="376" width="3" height="24" fill="#32cd32"/>
<rect x="1597" y="338" width="1" height="65" fill="#d0d0d0"/>
<rect x="1595" y="368" width="5" height="12" fill="#d3d3d3"/>
<rect x="1596" y="369" width="3" height="10" fill="#32cd32"/>
<rect x="1605" y="357" width="1" height="58" fill="#d0d0d0"/>
<rect x="1603" y="372" width="5" height="8" fill="#d3d3d3"/>
<rect x="1604" y="373" width="3" height="6" fill="#ff0000"/>
<rect x="1613" y="334" width="1" height="99" fill="#d0d0d0"/>
<rect x="1611" y="377" width="5" height="35" fill="#d3d3d3"/>
<rect x="1612" y="378" width="3" height="33" fill="#ff0000"/>
<rect x="1621" y="396" width="1" height="123" fill="#d0d0d0"/>
<rect x="1619" y="412" width="5" height="70" fill="#d3d3d3"/>
<rect x="1620" y="413" width="3" height="68" fill="#ff0000"/>
<rect x="1628" y="468" width="1" height="62" fill="#d0d0d0"/>
<rect x="1626" y="472" width="5" height="14" fill="#d3d3d3"/>
<rect x="1627" y="473" width="3" height="12" fill="#32cd32"/>
<rect x="1636" y="431" width="1" height="53" fill="#d0d0d0"/>
<rect x="1634" y="439" width="5" height="31" fill="#d3d3d3"/>
<rect x="1635" y="440" width="3" height="29" fill="#32cd32"/>
<rect x="1644" y="397" width="1" height="67" fill="#d0d0d0"/>
<rect x="1642" y="439" width="5" height="17" fill="#d3d3d3"/>
<rect x="1643" y="440" width="3" height="15" fill="#ff0000"/>
<rect x="1652" y="442" width="1" height="51" fill="#d0d0d0"/>
<rect x="1650" y="456" width="5" height="23" fill="#d3d3d3"/>
<rect x="1651" y="457" width="3" height="21" fill="#ff0000"/>
<rect x="1660" y="472" width="1" height="51" fill="#d0d0d0"/>
<rect x="1658" y="478" width="5" height="29" fill="#d3d3d3"/>
<rect x="1659" y="479" width="3" height="27" fill="#ff0000"/>
<rect x="1667" y="459" width="1" height="76" fill="#d0d0d0"/>
<rect x="1665" y="474" width="5" height="35" fill="#d3d3d3"/>
<rect x="1666" y="475" width="3" height="33" fill="#32cd32"/>
<rect x="1675" y="427" width="1" height="74" fill="#d0d0d0"/>
<rect x="1673" y="449" width="5" height="24" fill="#d3d3d3"/>
<rect x="1674" y="450" width="3" height="22" fill="#32cd32"/>
<rect x="1683" y="433" width="1" height="91" fill="#d0d0d0"/>
<rect x="1681" y="449" width="5" height="30" fill="#d3d3d3"/>
<rect x="1682" y="450" width="3" height="28" fill="#ff0000"/>
<rect x="1691" y="426" width="1" height="150" fill="#d0d0d0"/>
<rect x="1689" y="478" width="5" height="96" fill="#d3d3d3"/>
<rect x="1690" y="479" width="3" height="94" fill="#ff0000"/>
<rect x="1699" y="501" width="1" height="73" fill="#d0d0d0"/>
<rect x="1697" y="514" width="5" height="58" fill="#d3d3d3"/>
<rect x="1698" y="515" width="3" height="56" fill="#32cd32"/>
<rect x="1706" y="472" width="1" height="67" fill="#d0d0d0"/>
<rect x="1704" y="499" width="5" height="15" fill="#d3d3d3"/>
<rect x="1705" y="500" width="3" height="13" fill="#32cd32"/>
<rect x="1714" y="486" width="1" height="90" fill="#d0d0d0"/>
<rect x="1712" y="501" width="5" height="62" fill="#d3d3d3"/>
<rect x="1713" y="502" width="3" height="60" fill="#ff0000"/>
<rect x="1722" y="546" width="1" height="121" fill="#d0d0d0"/>
<rect x="1720" y="560" width="5" height="81" fill="#d3d3d3"/>
<rect x="1721" y="561" width="3" height="79" fill="#ff0000"/>
<rect x="1730" y="641" width="1" height="132" fill="#d0d0d0"/>
<rect x="1728" y="642" width="5" height="66" fill="#d3d3d3"/>
<rect x="1729" y="643" width="3" height="64" fill="#ff0000"/>
<rect x="1737" y="681" width="1" height="67" fill="#d0d0d0"/>
<rect x="1735" y="703" width="5" height="40" fill="#d3d3d3"/>
<rect x="1736" y="704" width="3" height="38" fill="#ff0000"/>
<rect x="1745" y="683" width="1" height="65" fill="#d0d0d0"/>
<rect x="1743" y="714" width="5" height="29" fill="#d3d3d3"/>
<rect x="1744" y="715" width="3" height="27" fill="#32cd32"/>
</g>
<g>
<path fill="#1e90ff" d="M228.7,348.0 l-4.9,-5 v10 z"/>
<path fill="#1e90ff" d="M228.7,344.5 l-4.9,-5 v10 z"/>
<path fill="#ff0000" d="M260.2,399.1 l4.9,-5 v10 z"/>
<path fill="#ff0000" d="M260.2,399.1 l4.9,-5 v10 z"/>
<path fill="#1e90ff" d="M282.7,515.5 l-4.9,-5 v10 z"/>
<path fill="#1e90ff" d="M274.7,492.5 l-4.9,-5 v10 z"/>
<path fill="#ff0000" d="M275.2,586.0 l4.9,-5 v10 z"/>
<path fill="#ff0000" d="M314.2,624.8 l4.9,-5 v10 z"/>
<path fill="#ff0000" d="M322.2,637.1 l4.9,-5 v10 z"/>
<path fill="#ff0000" d="M330.2,686.5 l4.9,-5 v10 z"/>
<path fill="#1e90ff" d="M321.7,591.3 l-4.9,-5 v10 z"/>
<path fill="#1e90ff" d="M329.7,594.8 l-4.9,-5 v10 z"/>
<path fill="#1e90ff" d="M329.7,601.8 l-4.9,-5 v10 z"/>
<path fill="#1e90ff" d="M329.7,623.0 l-4.9,-5 v10 z"/>
<path fill="#1e90ff" d="M329.7,621.2 l-4.9,-5 v10 z"/>
<path fill="#ff0000" d="M1723.2,621.2 l4.9,-5 v10 z"/>
<path fill="#ff0000" d="M257.70,259.2 h4.4 v9.8 h3 l-5.2,5.4 l-5.2,-5.4 h3 z"/>
<path fill="#1e90ff" d="M229.10,430.8 l5.2,5.4 h-3 v9.8 h-4.4 v-9.8 h-3 z"/>
<path fill="#ff0000" d="M272.70,449.9 h4.4 v9.8 h3 l-5.2,5.4 l-5.2,-5.4 h3 z"/>
<path fill="#ff0000" d="M311.40,512.6 h4.4 v9.8 h3 l-5.2,5.4 l-5.2,-5.4 h3 z"/>
<path fill="#ff0000" d="M327.80,530.9 h4.4 v9.8 h3 l-5.2,5.4 l-5.2,-5.4 h3 z"/>
<path fill="#ff0000" d="M319.80,540.7 h4.4 v9.8 h3 l-5.2,5.4 l-5.2,-5.4 h3 z"/>
<path fill="#1e90ff" d="M322.00,657.8 l5.2,5.4 h-3 v9.8 h-4.4 v-9.8 h-3 z"/>
<path fill="#1e90ff" d="M282.90,709.0 l5.2,5.4 h-3 v9.8 h-4.4 v-9.8 h-3 z"/>
<path fill="#1e90ff" d="M275.00,724.9 l5.2,5.4 h-3 v9.8 h-4.4 v-9.8 h-3 z"/>
<path fill="#1e90ff" d="M330.10,713.2 l5.2,5.4 h-3 v9.8 h-4.4 v-9.8 h-3 z"/>
<path fill="#ff0000" d="M1720.90,526.2 h4.4 v9.8 h3 l-5.2,5.4 l-5.2,-5.4 h3 z"/>
</g>
<g font-family="'Liberation Sans', sans-serif" style="will-change:opacity;opacity:0.999">
<g transform="translate(259.8,205.0) scale(0.91,1)"><text text-anchor="middle" font-size="10.9" fill="#d4d4d4" stroke="#d4d4d4" stroke-width="0.15">Stop1</text></g>
<g transform="translate(259.8,218.9) scale(0.925,1)"><text text-anchor="middle" font-size="10.9" fill="#d4d4d4" stroke="#d4d4d4" stroke-width="0.15">1 @ 18011,50</text></g>
<g transform="translate(259.8,237.2) scale(0.91,1)"><text text-anchor="middle" font-size="10.9" fill="#d4d4d4" stroke="#d4d4d4" stroke-width="0.15">Stop1</text></g>
<g transform="translate(259.8,251.2) scale(0.925,1)"><text text-anchor="middle" font-size="10.9" fill="#d4d4d4" stroke="#d4d4d4" stroke-width="0.15">1 @ 18011,50</text></g>
<g transform="translate(229.3,462.2) scale(0.91,1)"><text text-anchor="middle" font-size="10.9" fill="#d4d4d4" stroke="#d4d4d4" stroke-width="0.15">Entry</text></g>
<g transform="translate(229.3,476.1) scale(0.925,1)"><text text-anchor="middle" font-size="10.9" fill="#d4d4d4" stroke="#d4d4d4" stroke-width="0.15">1 @ 18018,75</text></g>
<g transform="translate(229.3,494.4) scale(0.91,1)"><text text-anchor="middle" font-size="10.9" fill="#d4d4d4" stroke="#d4d4d4" stroke-width="0.15">Entry</text></g>
<g transform="translate(229.3,509.0) scale(0.925,1)"><text text-anchor="middle" font-size="10.9" fill="#d4d4d4" stroke="#d4d4d4" stroke-width="0.15">1 @ 18019,25</text></g>
<g transform="translate(274.8,428.3) scale(0.91,1)"><text text-anchor="middle" font-size="10.9" fill="#d4d4d4" stroke="#d4d4d4" stroke-width="0.15">Stop1</text></g>
<g transform="translate(274.8,442.2) scale(0.925,1)"><text text-anchor="middle" font-size="10.9" fill="#d4d4d4" stroke="#d4d4d4" stroke-width="0.15">1 @ 17985,00</text></g>
<g transform="translate(329.8,477.2) scale(0.89,1)"><text text-anchor="middle" font-size="10.9" fill="#d4d4d4" stroke="#d4d4d4" stroke-width="0.15">Close</text></g>
<g transform="translate(329.8,490.9) scale(0.925,1)"><text text-anchor="middle" font-size="10.9" fill="#d4d4d4" stroke="#d4d4d4" stroke-width="0.15">2 @ 17970,75</text></g>
<g transform="translate(314.0,490.9) scale(0.89,1)"><text text-anchor="middle" font-size="10.9" fill="#d4d4d4" stroke="#d4d4d4" stroke-width="0.15">Close</text></g>
<g transform="translate(314.0,505.1) scale(0.925,1)"><text text-anchor="middle" font-size="10.9" fill="#d4d4d4" stroke="#d4d4d4" stroke-width="0.15">2 @ 17979,50</text></g>
<g transform="translate(329.8,509.3) scale(0.89,1)"><text text-anchor="middle" font-size="10.9" fill="#d4d4d4" stroke="#d4d4d4" stroke-width="0.15">Close</text></g>
<g transform="translate(329.8,523.4) scale(0.925,1)"><text text-anchor="middle" font-size="10.9" fill="#d4d4d4" stroke="#d4d4d4" stroke-width="0.15">2 @ 17970,75</text></g>
<g transform="translate(322.0,519.0) scale(0.89,1)"><text text-anchor="middle" font-size="10.9" fill="#d4d4d4" stroke="#d4d4d4" stroke-width="0.15">Close</text></g>
<g transform="translate(322.0,533.2) scale(0.925,1)"><text text-anchor="middle" font-size="10.9" fill="#d4d4d4" stroke="#d4d4d4" stroke-width="0.15">2 @ 17977,75</text></g>
<g transform="translate(322.0,689.4) scale(0.91,1)"><text text-anchor="middle" font-size="10.9" fill="#d4d4d4" stroke="#d4d4d4" stroke-width="0.15">Entry</text></g>
<g transform="translate(322.0,703.3) scale(0.925,1)"><text text-anchor="middle" font-size="10.9" fill="#d4d4d4" stroke="#d4d4d4" stroke-width="0.15">2 @ 17984,25</text></g>
<g transform="translate(283.2,740.2) scale(0.91,1)"><text text-anchor="middle" font-size="10.9" fill="#d4d4d4" stroke="#d4d4d4" stroke-width="0.15">Entry</text></g>
<g transform="translate(283.2,754.2) scale(0.925,1)"><text text-anchor="middle" font-size="10.9" fill="#d4d4d4" stroke="#d4d4d4" stroke-width="0.15">2 @ 17995,00</text></g>
<g transform="translate(275.2,757.2) scale(0.91,1)"><text text-anchor="middle" font-size="10.9" fill="#d4d4d4" stroke="#d4d4d4" stroke-width="0.15">Entry</text></g>
<g transform="translate(275.2,770.0) scale(0.925,1)"><text text-anchor="middle" font-size="10.9" fill="#d4d4d4" stroke="#d4d4d4" stroke-width="0.15">1 @ 17998,25</text></g>
<g transform="translate(330.2,744.0) scale(0.91,1)"><text text-anchor="middle" font-size="10.9" fill="#d4d4d4" stroke="#d4d4d4" stroke-width="0.15">Entry</text></g>
<g transform="translate(330.2,758.3) scale(0.925,1)"><text text-anchor="middle" font-size="10.9" fill="#d4d4d4" stroke="#d4d4d4" stroke-width="0.15">2 @ 17983,75</text></g>
<g transform="translate(330.2,776.3) scale(0.91,1)"><text text-anchor="middle" font-size="10.9" fill="#d4d4d4" stroke="#d4d4d4" stroke-width="0.15">Entry</text></g>
<g transform="translate(330.2,790.8) scale(0.925,1)"><text text-anchor="middle" font-size="10.9" fill="#d4d4d4" stroke="#d4d4d4" stroke-width="0.15">2 @ 17982,75</text></g>
<g transform="translate(330.2,809.3) scale(0.91,1)"><text text-anchor="middle" font-size="10.9" fill="#d4d4d4" stroke="#d4d4d4" stroke-width="0.15">Entry</text></g>
<g transform="translate(330.2,823.2) scale(0.925,1)"><text text-anchor="middle" font-size="10.9" fill="#d4d4d4" stroke="#d4d4d4" stroke-width="0.15">1 @ 17979,75</text></g>
<g transform="translate(330.2,841.2) scale(0.91,1)"><text text-anchor="middle" font-size="10.9" fill="#d4d4d4" stroke="#d4d4d4" stroke-width="0.15">Entry</text></g>
<g transform="translate(330.2,855.1) scale(0.925,1)"><text text-anchor="middle" font-size="10.9" fill="#d4d4d4" stroke="#d4d4d4" stroke-width="0.15">1 @ 17980,00</text></g>
<g transform="translate(1723.1,504.5) scale(0.91,1)"><text text-anchor="middle" font-size="10.9" fill="#d4d4d4" stroke="#d4d4d4" stroke-width="0.15">Stop1</text></g>
<g transform="translate(1723.1,518.7) scale(0.925,1)"><text text-anchor="middle" font-size="10.9" fill="#d4d4d4" stroke="#d4d4d4" stroke-width="0.15">2 @ 17980,00</text></g>
</g>
<g fill="#d6d6d6" shape-rendering="crispEdges">
<rect x="1758" y="0" width="1" height="910"/>
<rect x="0" y="909" width="1759" height="1"/>
<rect x="29" y="910" width="1" height="5"/>
<rect x="88" y="910" width="1" height="5"/>
<rect x="146" y="910" width="1" height="5"/>
<rect x="204" y="910" width="1" height="5"/>
<rect x="263" y="910" width="1" height="5"/>
<rect x="321" y="910" width="1" height="5"/>
<rect x="380" y="910" width="1" height="5"/>
<rect x="438" y="910" width="1" height="5"/>
<rect x="496" y="910" width="1" height="5"/>
<rect x="555" y="910" width="1" height="5"/>
<rect x="613" y="910" width="1" height="5"/>
<rect x="671" y="910" width="1" height="5"/>
<rect x="730" y="910" width="1" height="5"/>
<rect x="788" y="910" width="1" height="5"/>
<rect x="846" y="910" width="1" height="5"/>
<rect x="905" y="910" width="1" height="5"/>
<rect x="963" y="910" width="1" height="5"/>
<rect x="1021" y="910" width="1" height="5"/>
<rect x="1080" y="910" width="1" height="5"/>
<rect x="1138" y="910" width="1" height="5"/>
<rect x="1197" y="910" width="1" height="5"/>
<rect x="1255" y="910" width="1" height="5"/>
<rect x="1313" y="910" width="1" height="5"/>
<rect x="1372" y="910" width="1" height="5"/>
<rect x="1430" y="910" width="1" height="5"/>
<rect x="1488" y="910" width="1" height="5"/>
<rect x="1547" y="910" width="1" height="5"/>
<rect x="1605" y="910" width="1" height="5"/>
<rect x="1663" y="910" width="1" height="5"/>
<rect x="1722" y="910" width="1" height="5"/>
<rect x="1759" y="56" width="5" height="1"/>
<rect x="1759" y="127" width="5" height="1"/>
<rect x="1759" y="197" width="5" height="1"/>
<rect x="1759" y="268" width="5" height="1"/>
<rect x="1759" y="338" width="5" height="1"/>
<rect x="1759" y="409" width="5" height="1"/>
<rect x="1759" y="479" width="5" height="1"/>
<rect x="1759" y="550" width="5" height="1"/>
<rect x="1759" y="620" width="5" height="1"/>
<rect x="1759" y="691" width="5" height="1"/>
<rect x="1759" y="761" width="5" height="1"/>
<rect x="1759" y="832" width="5" height="1"/>
<rect x="1759" y="902" width="5" height="1"/>
</g>
<g font-family="'Liberation Sans', sans-serif" style="will-change:opacity;opacity:0.999">
<g transform="translate(30.0,932.0) scale(0.89,1)"><text text-anchor="middle" font-size="10.9" fill="#d4d4d4" stroke="#d4d4d4" stroke-width="0.15">14:45</text></g>
<g transform="translate(89.0,932.0) scale(0.89,1)"><text text-anchor="middle" font-size="10.9" fill="#d4d4d4" stroke="#d4d4d4" stroke-width="0.15">15:00</text></g>
<g transform="translate(147.0,932.0) scale(0.89,1)"><text text-anchor="middle" font-size="10.9" fill="#d4d4d4" stroke="#d4d4d4" stroke-width="0.15">15:15</text></g>
<g transform="translate(205.0,932.0) scale(0.89,1)"><text text-anchor="middle" font-size="10.9" fill="#d4d4d4" stroke="#d4d4d4" stroke-width="0.15">15:30</text></g>
<g transform="translate(264.0,932.0) scale(0.89,1)"><text text-anchor="middle" font-size="10.9" fill="#d4d4d4" stroke="#d4d4d4" stroke-width="0.15">15:45</text></g>
<g transform="translate(322.0,932.0) scale(0.89,1)"><text text-anchor="middle" font-size="10.9" fill="#d4d4d4" stroke="#d4d4d4" stroke-width="0.15">16:00</text></g>
<g transform="translate(381.0,932.0) scale(0.89,1)"><text text-anchor="middle" font-size="10.9" fill="#d4d4d4" stroke="#d4d4d4" stroke-width="0.15">16:15</text></g>
<g transform="translate(439.0,932.0) scale(0.89,1)"><text text-anchor="middle" font-size="10.9" fill="#d4d4d4" stroke="#d4d4d4" stroke-width="0.15">16:30</text></g>
<g transform="translate(497.0,932.0) scale(0.89,1)"><text text-anchor="middle" font-size="10.9" fill="#d4d4d4" stroke="#d4d4d4" stroke-width="0.15">16:45</text></g>
<g transform="translate(556.0,932.0) scale(0.89,1)"><text text-anchor="middle" font-size="10.9" fill="#d4d4d4" stroke="#d4d4d4" stroke-width="0.15">17:00</text></g>
<g transform="translate(614.0,932.0) scale(0.89,1)"><text text-anchor="middle" font-size="10.9" fill="#d4d4d4" stroke="#d4d4d4" stroke-width="0.15">17:15</text></g>
<g transform="translate(672.0,932.0) scale(0.89,1)"><text text-anchor="middle" font-size="10.9" fill="#d4d4d4" stroke="#d4d4d4" stroke-width="0.15">17:30</text></g>
<g transform="translate(731.0,932.0) scale(0.89,1)"><text text-anchor="middle" font-size="10.9" fill="#d4d4d4" stroke="#d4d4d4" stroke-width="0.15">17:45</text></g>
<g transform="translate(789.0,932.0) scale(0.89,1)"><text text-anchor="middle" font-size="10.9" fill="#d4d4d4" stroke="#d4d4d4" stroke-width="0.15">18:00</text></g>
<g transform="translate(847.0,932.0) scale(0.89,1)"><text text-anchor="middle" font-size="10.9" fill="#d4d4d4" stroke="#d4d4d4" stroke-width="0.15">18:15</text></g>
<g transform="translate(906.0,932.0) scale(0.89,1)"><text text-anchor="middle" font-size="10.9" fill="#d4d4d4" stroke="#d4d4d4" stroke-width="0.15">18:30</text></g>
<g transform="translate(964.0,932.0) scale(0.89,1)"><text text-anchor="middle" font-size="10.9" fill="#d4d4d4" stroke="#d4d4d4" stroke-width="0.15">18:45</text></g>
<g transform="translate(1022.0,932.0) scale(0.89,1)"><text text-anchor="middle" font-size="10.9" fill="#d4d4d4" stroke="#d4d4d4" stroke-width="0.15">19:00</text></g>
<g transform="translate(1081.0,932.0) scale(0.89,1)"><text text-anchor="middle" font-size="10.9" fill="#d4d4d4" stroke="#d4d4d4" stroke-width="0.15">19:15</text></g>
<g transform="translate(1139.0,932.0) scale(0.89,1)"><text text-anchor="middle" font-size="10.9" fill="#d4d4d4" stroke="#d4d4d4" stroke-width="0.15">19:30</text></g>
<g transform="translate(1198.0,932.0) scale(0.89,1)"><text text-anchor="middle" font-size="10.9" fill="#d4d4d4" stroke="#d4d4d4" stroke-width="0.15">19:45</text></g>
<g transform="translate(1256.0,932.0) scale(0.89,1)"><text text-anchor="middle" font-size="10.9" fill="#d4d4d4" stroke="#d4d4d4" stroke-width="0.15">20:00</text></g>
<g transform="translate(1314.0,932.0) scale(0.89,1)"><text text-anchor="middle" font-size="10.9" fill="#d4d4d4" stroke="#d4d4d4" stroke-width="0.15">20:15</text></g>
<g transform="translate(1373.0,932.0) scale(0.89,1)"><text text-anchor="middle" font-size="10.9" fill="#d4d4d4" stroke="#d4d4d4" stroke-width="0.15">20:30</text></g>
<g transform="translate(1431.0,932.0) scale(0.89,1)"><text text-anchor="middle" font-size="10.9" fill="#d4d4d4" stroke="#d4d4d4" stroke-width="0.15">20:45</text></g>
<g transform="translate(1489.0,932.0) scale(0.89,1)"><text text-anchor="middle" font-size="10.9" fill="#d4d4d4" stroke="#d4d4d4" stroke-width="0.15">21:00</text></g>
<g transform="translate(1548.0,932.0) scale(0.89,1)"><text text-anchor="middle" font-size="10.9" fill="#d4d4d4" stroke="#d4d4d4" stroke-width="0.15">21:15</text></g>
<g transform="translate(1606.0,932.0) scale(0.89,1)"><text text-anchor="middle" font-size="10.9" fill="#d4d4d4" stroke="#d4d4d4" stroke-width="0.15">21:30</text></g>
<g transform="translate(1664.0,932.0) scale(0.89,1)"><text text-anchor="middle" font-size="10.9" fill="#d4d4d4" stroke="#d4d4d4" stroke-width="0.15">21:45</text></g>
<g transform="translate(1723.0,932.0) scale(0.89,1)"><text text-anchor="middle" font-size="10.9" fill="#d4d4d4" stroke="#d4d4d4" stroke-width="0.15">22:00</text></g>
<g transform="translate(1767.3,60.9) scale(0.925,1)"><text text-anchor="start" font-size="10.9" fill="#d4d4d4" stroke="#d4d4d4" stroke-width="0.15">18060,00</text></g>
<g transform="translate(1767.3,131.9) scale(0.925,1)"><text text-anchor="start" font-size="10.9" fill="#d4d4d4" stroke="#d4d4d4" stroke-width="0.15">18050,00</text></g>
<g transform="translate(1767.3,201.9) scale(0.925,1)"><text text-anchor="start" font-size="10.9" fill="#d4d4d4" stroke="#d4d4d4" stroke-width="0.15">18040,00</text></g>
<g transform="translate(1767.3,272.9) scale(0.925,1)"><text text-anchor="start" font-size="10.9" fill="#d4d4d4" stroke="#d4d4d4" stroke-width="0.15">18030,00</text></g>
<g transform="translate(1767.3,342.9) scale(0.925,1)"><text text-anchor="start" font-size="10.9" fill="#d4d4d4" stroke="#d4d4d4" stroke-width="0.15">18020,00</text></g>
<g transform="translate(1767.3,413.9) scale(0.925,1)"><text text-anchor="start" font-size="10.9" fill="#d4d4d4" stroke="#d4d4d4" stroke-width="0.15">18010,00</text></g>
<g transform="translate(1767.3,483.9) scale(0.925,1)"><text text-anchor="start" font-size="10.9" fill="#d4d4d4" stroke="#d4d4d4" stroke-width="0.15">18000,00</text></g>
<g transform="translate(1767.3,554.9) scale(0.925,1)"><text text-anchor="start" font-size="10.9" fill="#d4d4d4" stroke="#d4d4d4" stroke-width="0.15">17990,00</text></g>
<g transform="translate(1767.3,624.9) scale(0.925,1)"><text text-anchor="start" font-size="10.9" fill="#d4d4d4" stroke="#d4d4d4" stroke-width="0.15">17980,00</text></g>
<g transform="translate(1767.3,695.9) scale(0.925,1)"><text text-anchor="start" font-size="10.9" fill="#d4d4d4" stroke="#d4d4d4" stroke-width="0.15">17970,00</text></g>
<g transform="translate(1767.3,765.9) scale(0.925,1)"><text text-anchor="start" font-size="10.9" fill="#d4d4d4" stroke="#d4d4d4" stroke-width="0.15">17960,00</text></g>
<g transform="translate(1767.3,836.9) scale(0.925,1)"><text text-anchor="start" font-size="10.9" fill="#d4d4d4" stroke="#d4d4d4" stroke-width="0.15">17950,00</text></g>
<g transform="translate(1767.3,906.9) scale(0.925,1)"><text text-anchor="start" font-size="10.9" fill="#d4d4d4" stroke="#d4d4d4" stroke-width="0.15">17940,00</text></g>
<g transform="translate(0.4,899.1) scale(0.83,1)"><text text-anchor="start" font-size="10.9" fill="#d4d4d4" stroke="#d4d4d4" stroke-width="0.15">LLC</text></g>
<path d="M1751.5,714.5 L1758.5,705.5 H1815.5 V723.5 H1758.5 Z" fill="#3f3f46" stroke="#c4c4c4" stroke-width="1"/>
<rect x="1816" y="705" width="1" height="19" fill="#777" shape-rendering="crispEdges"/>
<g transform="translate(1767.3,719.2) scale(0.91,1)"><text text-anchor="start" font-size="10.9" fill="#f4f4f4" stroke="#f4f4f4" stroke-width="0.15">17966,75</text></g>
</g>
</svg>
</body></html>
